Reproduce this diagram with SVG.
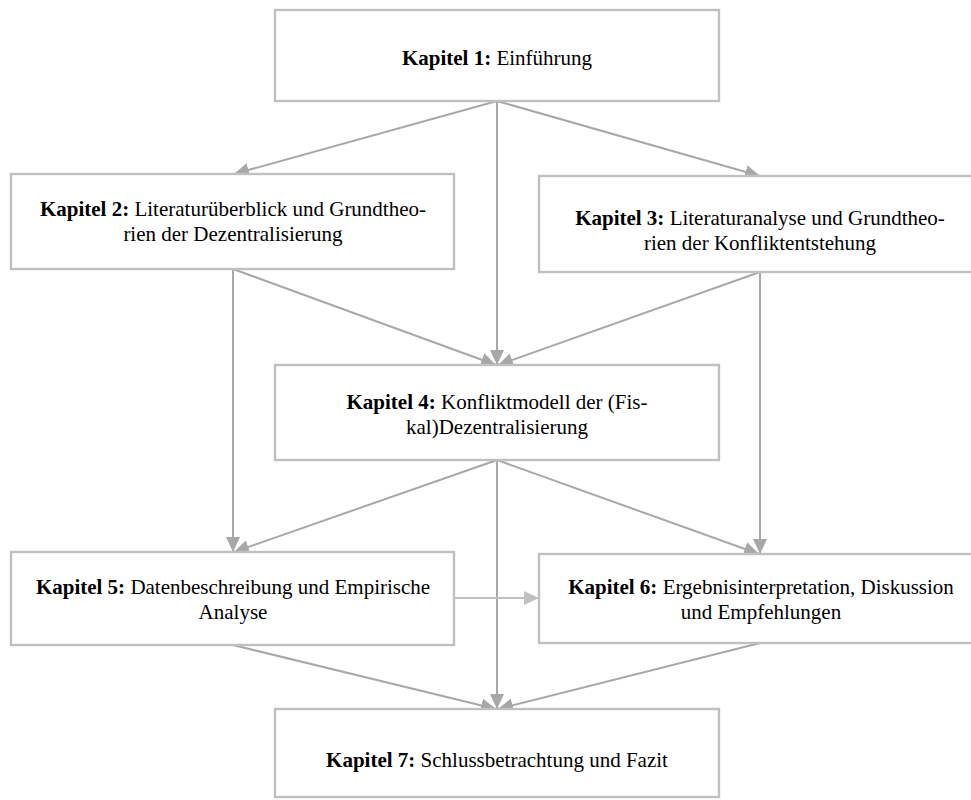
<svg xmlns="http://www.w3.org/2000/svg" width="971" height="800" viewBox="0 0 971 800">
<style>
.box{fill:#ffffff;stroke:#c0c0c0;stroke-width:2.4}
.t{font-family:"Liberation Serif","Times New Roman",serif;font-size:21px;fill:#000;text-anchor:middle}
.b{font-weight:bold}
.c{stroke:#a8a8a8;stroke-width:2;fill:none;marker-end:url(#ah)}
.cl{stroke:#c0c0c0;stroke-width:2;fill:none;marker-end:url(#ahl)}
</style>
<defs>
<marker id="ah" markerUnits="userSpaceOnUse" markerWidth="16" markerHeight="14" refX="15" refY="7" orient="auto">
<path d="M0,0 L15,7 L0,14 Z" fill="#a8a8a8"/>
</marker>
<marker id="ahl" markerUnits="userSpaceOnUse" markerWidth="16" markerHeight="14" refX="15" refY="7" orient="auto">
<path d="M0,0 L15,7 L0,14 Z" fill="#c0c0c0"/>
</marker>
</defs>
<rect width="971" height="800" fill="#ffffff"/>
<g id="connectors">
<line class="c" x1="497" y1="101" x2="234" y2="174"/>
<line class="c" x1="497" y1="101" x2="760" y2="176"/>
<line class="c" x1="497" y1="101" x2="497" y2="365"/>
<line class="c" x1="233" y1="269" x2="496" y2="365"/>
<line class="c" x1="760" y1="272" x2="498" y2="365"/>
<line class="c" x1="233" y1="269" x2="233" y2="552"/>
<line class="c" x1="760" y1="272" x2="760" y2="554"/>
<line class="c" x1="497" y1="460" x2="234" y2="552"/>
<line class="c" x1="497" y1="460" x2="759" y2="554"/>
<line class="c" x1="497" y1="460" x2="497" y2="709"/>
<line class="cl" x1="454" y1="598" x2="539" y2="598"/>
<line class="c" x1="233" y1="645" x2="496" y2="709"/>
<line class="c" x1="760" y1="643" x2="498" y2="709"/>
</g>
<g id="k1">
<rect class="box" x="275" y="10" width="444" height="91"/>
<text class="t" x="497" y="65"><tspan class="b">Kapitel 1:</tspan> Einführung</text>
</g>
<g id="k2">
<rect class="box" x="11" y="174" width="443" height="95"/>
<text class="t" x="233" y="216"><tspan class="b">Kapitel 2:</tspan> Literaturüberblick und Grundtheo-</text>
<text class="t" x="233" y="241">rien der Dezentralisierung</text>
</g>
<g id="k3">
<rect class="box" x="539" y="176" width="445" height="96"/>
<text class="t" x="760" y="225"><tspan class="b">Kapitel 3:</tspan> Literaturanalyse und Grundtheo-</text>
<text class="t" x="760" y="250">rien der Konfliktentstehung</text>
</g>
<g id="k4">
<rect class="box" x="275" y="365" width="444" height="95"/>
<text class="t" x="497" y="409"><tspan class="b">Kapitel 4:</tspan> Konfliktmodell der (Fis-</text>
<text class="t" x="497" y="434">kal)Dezentralisierung</text>
</g>
<g id="k5">
<rect class="box" x="11" y="552" width="443" height="93"/>
<text class="t" x="233" y="594"><tspan class="b">Kapitel 5:</tspan> Datenbeschreibung und Empirische</text>
<text class="t" x="233" y="619">Analyse</text>
</g>
<g id="k6">
<rect class="box" x="539" y="554" width="445" height="89"/>
<text class="t" x="761" y="594"><tspan class="b">Kapitel 6:</tspan> Ergebnisinterpretation, Diskussion</text>
<text class="t" x="761" y="619">und Empfehlungen</text>
</g>
<g id="k7">
<rect class="box" x="275" y="709" width="444" height="88"/>
<text class="t" x="497" y="767"><tspan class="b">Kapitel 7:</tspan> Schlussbetrachtung und Fazit</text>
</g>
</svg>
